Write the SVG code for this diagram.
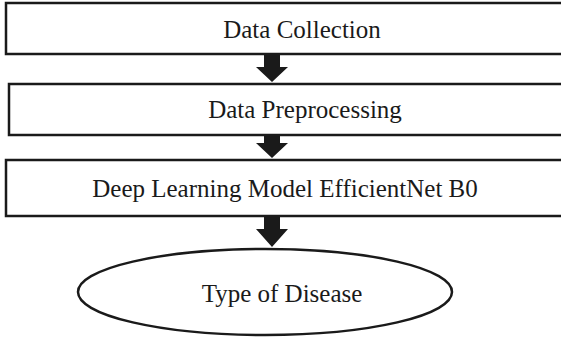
<svg xmlns="http://www.w3.org/2000/svg" width="561" height="338" viewBox="0 0 561 338">
<style>
.box{fill:#fff;stroke:#1a1a1a;stroke-width:2.5}
.lbl{font-family:"Liberation Serif","Times New Roman",serif;font-size:25px;fill:#1a1a1a;text-anchor:middle}
.arr{fill:#1a1a1a}
</style>
<rect width="561" height="338" fill="#fff"/>
<g id="n1"><rect class="box" x="6" y="3" width="600" height="51"/><text class="lbl" x="302" y="38">Data Collection</text></g>
<g id="n2"><rect class="box" x="9" y="84" width="600" height="51"/><text class="lbl" x="305" y="118">Data Preprocessing</text></g>
<g id="n3"><rect class="box" x="6" y="160" width="600" height="56"/><text class="lbl" x="285" y="197">Deep Learning Model EfficientNet B0</text></g>
<g id="n4"><ellipse class="box" cx="265" cy="292" rx="187" ry="43"/><text class="lbl" x="282" y="302">Type of Disease</text></g>
<g id="edges">
<polygon class="arr" points="264,54 280,54 280,67 288,67 272,82 256,67 264,67"/>
<polygon class="arr" points="264,135 280,135 280,143 288,143 272,158 256,143 264,143"/>
<polygon class="arr" points="264,216 280,216 280,229 288,229 272,247 256,229 264,229"/>
</g>
</svg>
